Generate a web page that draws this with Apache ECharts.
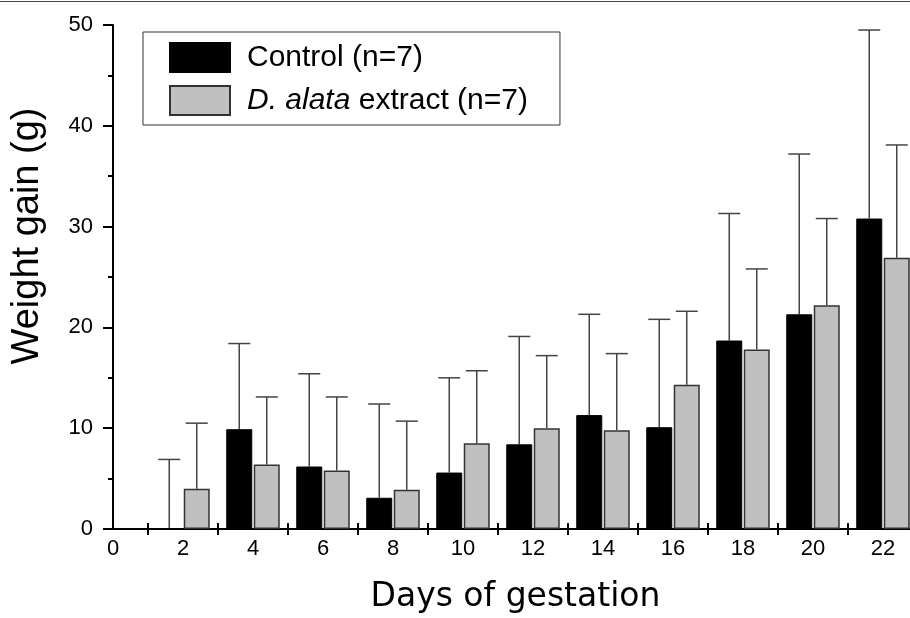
<!DOCTYPE html>
<html>
<head>
<meta charset="utf-8">
<script src="https://cdn.jsdelivr.net/npm/echarts@6/dist/echarts.min.js"></script>
<style>html,body{margin:0;padding:0;background:#fff;}#c{width:910px;height:618px;}</style>
</head>
<body>
<div id="c"></div>
<script>
// Data
const days = [2, 4, 6, 8, 10, 12, 14, 16, 18, 20, 22];
const controlMean = [0, 9.9, 6.2, 3.1, 5.6, 8.4, 11.3, 10.1, 18.7, 21.3, 30.8];
const controlUpper = [6.9, 18.4, 15.4, 12.4, 15.0, 19.1, 21.3, 20.8, 31.3, 37.2, 49.5];
const extractMean = [4.0, 6.4, 5.8, 3.9, 8.5, 10.0, 9.8, 14.3, 17.8, 22.2, 26.9];
const extractUpper = [10.5, 13.1, 13.1, 10.7, 15.7, 17.2, 17.4, 21.6, 25.8, 30.8, 38.1];
const xLabelValues = [0, 2, 4, 6, 8, 10, 12, 14, 16, 18, 20, 22];
const xTickValues = [1, 3, 5, 7, 9, 11, 13, 15, 17, 19, 21];
const seriesNames = ['Control (n=7)', 'D. alata extract (n=7)'];

const FONT = 'Liberation Sans, Arial, sans-serif';
const BAR_W = 26, BAR_GAP_PX = 1.5;
const half = (BAR_W + BAR_GAP_PX) / 2;

function errSeries(means, uppers, offset, name) {
  return {
    type: 'custom',
    name: name + ' err',
    xAxisIndex: 0, yAxisIndex: 0,
    data: days.map((d, i) => [d, means[i], uppers[i]]),
    encode: { x: 0, y: 2 },
    z: 1,
    renderItem: function (params, api) {
      const p0 = api.coord([api.value(0), api.value(1)]);
      const p1 = api.coord([api.value(0), api.value(2)]);
      const cx = p0[0] + offset;
      const st = { stroke: '#444', lineWidth: 1.5 };
      return {
        type: 'group',
        children: [
          { type: 'line', shape: { x1: cx, y1: p0[1], x2: cx, y2: p1[1] }, style: st },
          { type: 'line', shape: { x1: cx - 11, y1: p1[1], x2: cx + 11, y2: p1[1] }, style: st }
        ]
      };
    }
  };
}

const chart = echarts.init(document.getElementById('c'));
chart.setOption({
  backgroundColor: '#fff',
  animation: false,
  graphic: [{ type: 'line', shape: { x1: 0, y1: 1.5, x2: 910, y2: 1.5 }, style: { stroke: '#444', lineWidth: 1 } }],
  grid: { left: 113, top: 25, right: -8, bottom: 89, containLabel: false, outerBoundsMode: 'none' },
  legend: {
    orient: 'vertical', left: 143, top: 32,
    data: seriesNames,
    icon: 'rect',
    itemWidth: 60, itemHeight: 29, itemGap: 12,
    padding: [10, 32, 9, 26],
    borderColor: '#333', borderWidth: 1,
    textStyle: { fontFamily: FONT, fontSize: 30, color: '#000', padding: [0, 0, 0, 12],
      rich: { i: { fontFamily: FONT, fontSize: 30, fontStyle: 'italic', color: '#000' } } },
    formatter: function (n) { return n === seriesNames[1] ? '{i|D. alata} extract (n=7)' : n; }
  },
  xAxis: [{
    type: 'value', min: 0, max: 23, position: 'bottom',
    name: 'Days of gestation', nameLocation: 'middle', nameGap: 52,
    nameTextStyle: { fontFamily: 'DejaVu Sans, sans-serif', fontSize: 33, color: '#000' },
    axisLine: { show: true, lineStyle: { color: '#000', width: 2 } },
    axisTick: { show: true, customValues: xTickValues, length: 6, lineStyle: { color: '#000', width: 2 } },
    axisLabel: { customValues: xLabelValues, margin: 9, fontFamily: FONT, fontSize: 22, color: '#000' },
    splitLine: { show: false }
  }, {
    type: 'value', min: 0, max: 23, position: 'bottom',
    axisLine: { show: false },
    axisTick: { show: true, inside: true, customValues: xTickValues, length: 6, lineStyle: { color: '#000', width: 2 } },
    axisLabel: { show: false },
    splitLine: { show: false }
  }],
  yAxis: {
    type: 'value', min: 0, max: 50, interval: 10,
    name: 'Weight gain (g)', nameLocation: 'middle', nameGap: 66,
    nameTextStyle: { fontFamily: FONT, fontSize: 38, color: '#000', padding: [0, 0, 0, 82] },
    axisLine: { show: true, lineStyle: { color: '#000', width: 2 } },
    axisTick: { show: true, length: 10, lineStyle: { color: '#000', width: 2 } },
    minorTick: { show: true, splitNumber: 2, length: 5, lineStyle: { color: '#000', width: 2 } },
    axisLabel: { margin: 20, fontFamily: FONT, fontSize: 22, color: '#000' },
    splitLine: { show: false }
  },
  series: [
    {
      type: 'bar', name: seriesNames[0],
      data: days.map((d, i) => [d, controlMean[i]]),
      barWidth: BAR_W, barGap: (BAR_GAP_PX / BAR_W * 100) + '%',
      itemStyle: { color: '#000', borderColor: '#000', borderWidth: 1 },
      z: 2
    },
    {
      type: 'bar', name: seriesNames[1],
      data: days.map((d, i) => [d, extractMean[i]]),
      barWidth: BAR_W,
      itemStyle: { color: '#c0c0c0', borderColor: '#333', borderWidth: 1.5 },
      z: 2
    },
    errSeries(controlMean, controlUpper, -half, 'c'),
    errSeries(extractMean, extractUpper, half, 'e')
  ]
});
</script>
</body>
</html>
